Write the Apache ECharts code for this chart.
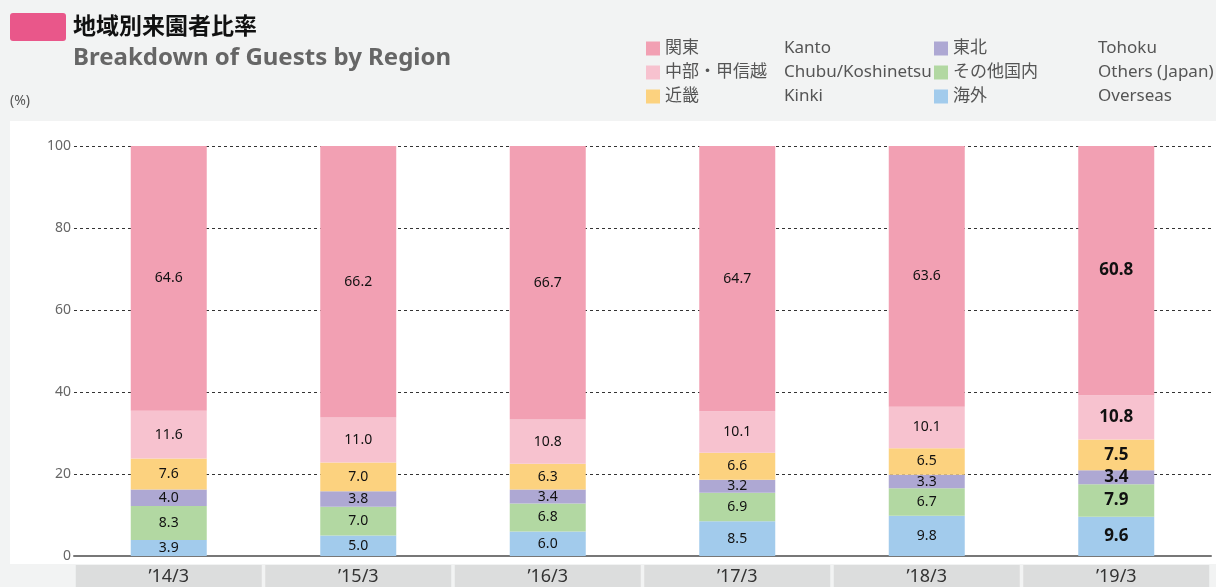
<!DOCTYPE html>
<html>
<head>
<meta charset="utf-8">
<script src="https://cdn.jsdelivr.net/npm/echarts@6/dist/echarts.min.js"></script>
<style>
html,body{margin:0;padding:0;background:#f2f3f3;}
#main{width:1216px;height:587px;}
</style>
</head>
<body>
<div id="main"></div>
<script>
var years = ['’14/3', '’15/3', '’16/3', '’17/3', '’18/3', '’19/3'];
var kanto    = [64.6, 66.2, 66.7, 64.7, 63.6, 60.8];
var chubu    = [11.6, 11.0, 10.8, 10.1, 10.1, 10.8];
var kinki    = [7.6, 7.0, 6.3, 6.6, 6.5, 7.5];
var tohoku   = [4.0, 3.8, 3.4, 3.2, 3.3, 3.4];
var others   = [8.3, 7.0, 6.8, 6.9, 6.7, 7.9];
var overseas = [3.9, 5.0, 6.0, 8.5, 9.8, 9.6];
var yTicks = [0, 20, 40, 60, 80, 100];

var FONT = "'Noto Sans', 'Noto Sans CJK JP', sans-serif";

// bottom-to-top stacking order
var regions = [
	{jp: '海外', en: 'Overseas', data: overseas, color: '#a2cbec'},
	{jp: 'その他国内', en: 'Others (Japan)', data: others, color: '#b2d8a2'},
	{jp: '東北', en: 'Tohoku', data: tohoku, color: '#aea8d3'},
	{jp: '近畿', en: 'Kinki', data: kinki, color: '#fcd27f'},
	{jp: '中部・甲信越', en: 'Chubu/Koshinetsu', data: chubu, color: '#f7c2cf'},
	{jp: '関東', en: 'Kanto', data: kanto, color: '#f2a0b3'}
];

function makeSeries(r){
	var d = [];
	for (var i = 0; i < r.data.length; i++) {
		if (i == r.data.length - 1) {
			d.push({value: r.data[i], label: {fontWeight: 'bold', fontSize: 17}});
		} else {
			d.push(r.data[i]);
		}
	}
	return {
		name: r.jp,
		type: 'bar',
		stack: 'all',
		barWidth: 76,
		itemStyle: {color: r.color},
		label: {
			show: true,
			position: 'inside',
			color: '#111',
			fontSize: 14,
			fontFamily: FONT,
			formatter: function(p){ return p.value.toFixed(1); }
		},
		data: d
	};
}

var enNames = {};
regions.forEach(function(r){ enNames[r.jp] = r.en; });

function legendFmt(name){
	return '{a|' + name + '}{b|' + enNames[name] + '}';
}

function makeLegend(left, colW, names){
	return {
		orient: 'vertical',
		left: left,
		top: 35,
		itemWidth: 14,
		itemHeight: 14,
		itemGap: 7,
		icon: 'rect',
		formatter: legendFmt,
		selectedMode: false,
		data: names,
		textStyle: {
			fontFamily: FONT,
			fontSize: 17,
			color: '#555',
			rich: {
				a: {width: colW, fontSize: 17, lineHeight: 17, color: '#555', fontFamily: FONT},
				b: {fontSize: 17, lineHeight: 17, color: '#555', fontFamily: FONT}
			}
		}
	};
}

var chart = echarts.init(document.getElementById('main'));
chart.setOption({
	backgroundColor: '#f2f3f3',
	animation: false,
	graphic: [
		{type: 'rect', left: 10, top: 121, shape: {width: 1206, height: 443}, style: {fill: '#ffffff'}, z: -10},
		{type: 'rect', left: 10, top: 13, shape: {width: 56, height: 28, r: 3}, style: {fill: '#e9578a'}},
		{type: 'text', left: 73, top: 14, style: {text: '地域別来園者比率', fontSize: 23, fontWeight: 'bold', fill: '#111', fontFamily: "'Noto Sans CJK JP', sans-serif"}},
		{type: 'text', left: 73, top: 46, style: {text: 'Breakdown of Guests by Region', fontSize: 24, fontWeight: 'bold', fill: '#666', fontFamily: FONT}},
		{type: 'text', left: 10, top: 94, style: {text: '(%)', fontSize: 14, fill: '#555', fontFamily: FONT}}
	],
	legend: [
		makeLegend(641, 119, ['関東', '中部・甲信越', '近畿']),
		makeLegend(929, 145, ['東北', 'その他国内', '海外'])
	],
	grid: {left: 74, right: 5, top: 146, bottom: 31, containLabel: false},
	xAxis: {
		type: 'category',
		data: years,
		axisLine: {show: true, lineStyle: {color: '#777', width: 2}},
		axisTick: {show: false},
		axisLabel: {
			margin: 9,
			fontSize: 18,
			fontFamily: FONT,
			color: '#333',
			backgroundColor: '#dcdddd',
			width: 186,
			height: 22,
			lineHeight: 24,
			align: 'center',
			verticalAlign: 'top'
		}
	},
	yAxis: {
		type: 'value',
		min: 0,
		max: 100,
		interval: 20,
		axisLine: {show: false},
		axisTick: {show: false},
		axisLabel: {
			margin: 3,
			fontSize: 14,
			fontFamily: FONT,
			color: '#666',
			formatter: function(v){ return yTicks.indexOf(v) >= 0 ? String(v) : ''; }
		},
		splitLine: {show: true, lineStyle: {color: '#333', type: [3, 3], width: 1}}
	},
	series: regions.map(makeSeries)
});
</script>
</body>
</html>
